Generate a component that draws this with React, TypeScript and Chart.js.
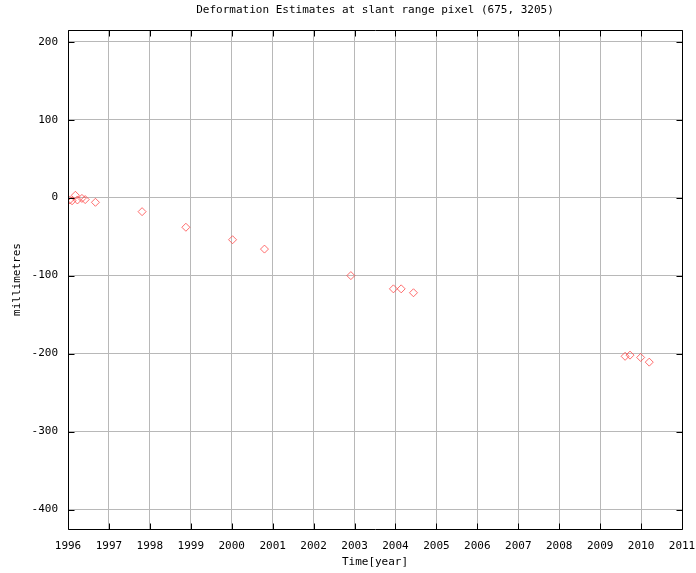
import React, { useEffect, useRef } from "react";
import { Chart, registerables } from "chart.js";
Chart.register(...registerables);

const years = [1996.04, 1996.1, 1996.18, 1996.23, 1996.34, 1996.42, 1996.67, 1997.81, 1998.88, 2000.02, 2000.8, 2002.91, 2003.95, 2004.14, 2004.44, 2009.61, 2009.73, 2009.99, 2010.2];
const deformation = [-3, -4, 3, -3, -1, -2.5, -6, -18, -38, -54, -66, -100, -117, -117, -122, -203.5, -202, -205, -211];
const yTicks = [-400, -300, -200, -100, 0, 100, 200];
const xTicks = [1996, 1997, 1998, 1999, 2000, 2001, 2002, 2003, 2004, 2005, 2006, 2007, 2008, 2009, 2010, 2011];
const titleText = "Deformation Estimates at slant range pixel (675, 3205)";
const xTitle = "Time[year]";
const yTitle = "millimetres";

const FONT = "'DejaVu Sans Mono', monospace";

const framePlugin = {
  id: "frame",
  afterDraw(chart: any) {
    const { ctx, chartArea } = chart;
    const { left, right, top, bottom } = chartArea;
    const xs = chart.scales.x;
    const ys = chart.scales.y;
    ctx.save();
    ctx.strokeStyle = "#000";
    ctx.lineWidth = 1;
    ctx.beginPath();
    const L = Math.round(left) + 0.5, R = Math.round(right) + 0.5, T = Math.round(top) + 0.5, B = Math.round(bottom) + 0.5;
    ctx.rect(L, T, R - L, B - T);
    for (const v of xTicks) {
      const px = Math.round(xs.getPixelForValue(v)) + 0.5;
      ctx.moveTo(px, B); ctx.lineTo(px, B - 6);
      ctx.moveTo(px, T); ctx.lineTo(px, T + 6);
    }
    for (const v of yTicks) {
      const py = Math.round(ys.getPixelForValue(v)) + 0.5;
      ctx.moveTo(L, py); ctx.lineTo(L + 6, py);
      ctx.moveTo(R, py); ctx.lineTo(R - 6, py);
    }
    ctx.stroke();
    ctx.fillStyle = "#000";
    ctx.font = "11px " + FONT;
    ctx.textAlign = "center";
    ctx.textBaseline = "middle";
    ctx.fillText(titleText, (left + right) / 2, 10);
    ctx.fillText(xTitle, (left + right) / 2, 562);
    ctx.translate(17, (top + bottom) / 2);
    ctx.rotate(-Math.PI / 2);
    ctx.fillText(yTitle, 0, 0);
    ctx.restore();
  },
};

export default function App() {
  const ref = useRef<HTMLCanvasElement>(null);
  useEffect(() => {
    const chart = new Chart(ref.current!, {
      type: "scatter",
      data: {
        datasets: [
          {
            data: years.map((x, i) => ({ x, y: deformation[i] })),
            pointStyle: "rectRot",
            pointRadius: 4,
            pointHoverRadius: 4,
            borderColor: "rgba(255,60,60,0.75)",
            backgroundColor: "rgba(0,0,0,0)",
            borderWidth: 1,
          },
        ],
      },
      plugins: [framePlugin],
      options: {
        animation: false,
        responsive: false,
        devicePixelRatio: 1,
        layout: { padding: { top: 30, right: 14, left: 0, bottom: 0 } },
        plugins: { legend: { display: false }, tooltip: { enabled: false }, title: { display: false } },
        scales: {
          x: {
            type: "linear",
            min: 1996,
            max: 2011,
            afterBuildTicks: (s: any) => { s.ticks = xTicks.map((v) => ({ value: v })); },
            afterFit: (s: any) => { s.height = 44; s.paddingLeft = 0; s.paddingRight = 0; },
            grid: { color: "#b8b8b8", drawTicks: false, lineWidth: 1 },
            border: { display: false },
            ticks: {
              padding: 11,
              color: "#000",
              font: { family: FONT, size: 11 },
              maxRotation: 0,
              autoSkip: false,
              callback: (v: any) => String(v),
            },
          },
          y: {
            type: "linear",
            min: -425,
            max: 215,
            afterBuildTicks: (s: any) => { s.ticks = yTicks.map((v) => ({ value: v })); },
            afterFit: (s: any) => { s.width = 68; s.paddingTop = 0; s.paddingBottom = 0; },
            grid: { color: "#b8b8b8", drawTicks: false, lineWidth: 1 },
            border: { display: false },
            ticks: {
              padding: 10,
              color: "#000",
              font: { family: FONT, size: 11 },
              callback: (v: any) => String(v),
            },
          },
        },
      },
    });
    return () => chart.destroy();
  }, []);
  return (
    <div style={{ position: "fixed", left: 0, top: 0, width: 696, height: 573, background: "#fff" }}>
      <canvas ref={ref} width={696} height={573} style={{ width: 696, height: 573 }} />
    </div>
  );
}
